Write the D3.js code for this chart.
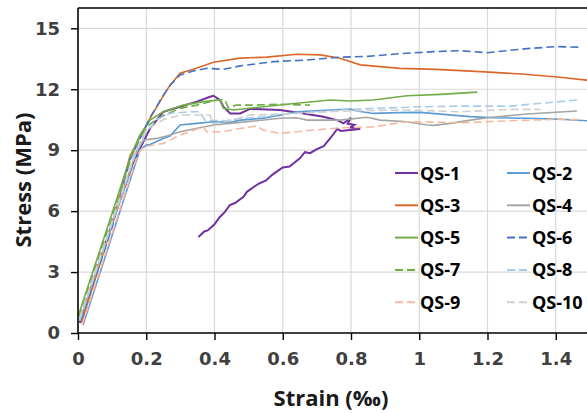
<!DOCTYPE html>
<html>
<head>
<meta charset="utf-8">
<script src="https://d3js.org/d3.v7.min.js"></script>
<style>
  body { margin: 0; background: #fff; }
  .tick text { font-family: "DejaVu Sans", sans-serif; font-weight: bold; font-size: 18px; fill: #404040; }
  .grid line { stroke: #d9d9d9; stroke-width: 1.2; }
  .title { font-family: "Open Sans", sans-serif; font-weight: bold; font-size: 22px; fill: #1a1a1a; }
  .leg text { font-family: "Open Sans", sans-serif; font-weight: bold; font-size: 18px; fill: #000; }
</style>
</head>
<body>
<svg width="587" height="413"></svg>
<script>
// series: [strain (permil), stress (MPa)]
var names = ["QS-1", "QS-2", "QS-3", "QS-4", "QS-5", "QS-6", "QS-7", "QS-8", "QS-9", "QS-10"];
var xTicks = [0, 0.2, 0.4, 0.6, 0.8, 1, 1.2, 1.4];
var yTicks = [0, 3, 6, 9, 12, 15];

var qs1 = [[0.005,0.5],[0.1,5.4],[0.16,8.3],[0.182,9.09],[0.211,10.07],[0.25,10.89],[0.299,11.14],[0.348,11.39],
  [0.387,11.63],[0.397,11.68],[0.416,11.47],[0.426,11.14],[0.446,10.81],[0.475,10.81],[0.504,11.03],[0.592,10.98],
  [0.661,10.81],[0.719,10.65],[0.759,10.48],[0.778,10.32],[0.80,10.6],[0.79,10.3],[0.81,10.25],[0.798,10.12],
  [0.827,10.04],[0.77,9.95],[0.76,10.05],[0.74,9.6],[0.72,9.2],[0.7,9.05],[0.68,8.85],[0.665,8.9],[0.65,8.6],
  [0.62,8.2],[0.6,8.15],[0.57,7.8],[0.55,7.5],[0.53,7.35],[0.52,7.25],[0.495,6.95],[0.485,6.7],[0.46,6.4],
  [0.445,6.3],[0.43,5.95],[0.415,5.7],[0.40,5.35],[0.38,5.05],[0.37,5.0],[0.353,4.73]];
var qs2 = [[0.015,0.4],[0.1,4.8],[0.181,9.0],[0.2,9.25],[0.211,9.28],[0.25,9.58],[0.27,9.7],[0.299,10.24],
  [0.348,10.32],[0.397,10.4],[0.446,10.37],[0.475,10.48],[0.543,10.57],[0.6,10.75],[0.641,10.89],[0.739,10.98],
  [0.798,11.03],[0.817,10.93],[0.866,10.81],[0.94,10.85],[1.003,10.86],[1.08,10.75],[1.15,10.65],[1.22,10.6],
  [1.316,10.57],[1.413,10.52],[1.49,10.45],[1.52,10.4]];
var qs3 = [[0.01,0.5],[0.1,5.3],[0.152,8.7],[0.18,9.6],[0.211,10.57],[0.24,11.39],[0.26,11.96],[0.27,12.2],
  [0.299,12.79],[0.338,12.98],[0.397,13.33],[0.475,13.53],[0.553,13.58],[0.641,13.72],[0.71,13.69],[0.768,13.53],
  [0.827,13.2],[0.944,13.03],[1.05,12.98],[1.179,12.87],[1.3,12.75],[1.413,12.59],[1.49,12.45],[1.55,12.35]];
var qs4 = [[0.005,0.6],[0.1,5.3],[0.17,8.9],[0.192,9.5],[0.23,9.58],[0.26,9.7],[0.299,9.91],[0.397,10.24],
  [0.475,10.37],[0.592,10.57],[0.641,10.6],[0.671,10.48],[0.768,10.48],[0.847,10.62],[0.886,10.48],[0.964,10.4],
  [1.023,10.24],[1.042,10.22],[1.091,10.32],[1.15,10.48],[1.2,10.6],[1.316,10.78],[1.462,10.93]];
var qs5 = [[0.002,0.9],[0.1,5.9],[0.152,8.6],[0.18,9.7],[0.211,10.48],[0.25,10.89],[0.309,11.22],[0.367,11.39],
  [0.416,11.47],[0.426,11.06],[0.455,10.98],[0.543,11.14],[0.641,11.31],[0.739,11.47],[0.798,11.42],[0.866,11.47],
  [0.964,11.68],[1.062,11.75],[1.17,11.86]];
var qs6 = [[0.008,0.6],[0.1,5.2],[0.152,8.5],[0.18,9.5],[0.211,10.6],[0.25,11.7],[0.27,12.2],[0.299,12.7],
  [0.338,12.9],[0.377,13.03],[0.426,12.98],[0.475,13.15],[0.573,13.36],[0.671,13.44],[0.768,13.58],[0.85,13.62],
  [0.944,13.75],[1.042,13.85],[1.12,13.9],[1.199,13.8],[1.316,14.0],[1.404,14.1],[1.47,14.07]];
var qs7 = [[0.002,0.8],[0.1,5.7],[0.155,8.6],[0.18,9.6],[0.211,10.3],[0.25,10.7],[0.299,11.06],[0.348,11.22],
  [0.407,11.47],[0.43,11.5],[0.44,11.1],[0.465,11.22],[0.504,11.22],[0.592,11.26],[0.68,11.22]];
var qs8 = [[0.005,0.6],[0.1,5.4],[0.17,8.9],[0.2,9.9],[0.23,10.5],[0.27,10.81],[0.328,10.89],[0.358,10.89],
  [0.372,10.48],[0.43,10.45],[0.475,10.55],[0.543,10.65],[0.592,10.76],[0.739,10.93],[0.768,10.98],[0.866,11.06],
  [1.013,11.14],[1.12,11.17],[1.267,11.17],[1.462,11.47]];
var qs9 = [[0.012,0.4],[0.1,4.9],[0.175,8.8],[0.192,9.17],[0.25,9.33],[0.299,9.74],[0.367,10.15],[0.377,9.91],
  [0.426,9.91],[0.475,10.07],[0.524,10.2],[0.543,9.99],[0.592,9.83],[0.69,9.99],[0.768,10.1],[0.866,10.15],
  [0.964,10.4],[1.05,10.38],[1.12,10.35],[1.267,10.45],[1.413,10.52],[1.47,10.5]];
var qs10 = [[0.004,0.7],[0.1,5.5],[0.165,8.8],[0.2,10.0],[0.25,10.5],[0.299,10.73],[0.387,10.73],[0.395,10.3],
  [0.43,10.4],[0.504,10.73],[0.641,10.81],[0.778,10.93],[0.964,10.98],[1.12,10.89],[1.267,11.01],[1.355,11.01]];

var series = [qs1, qs2, qs3, qs4, qs5, qs6, qs7, qs8, qs9, qs10];
var colors = ["#7030A0", "#5B9BD5", "#D9682A", "#A5A5A5", "#70AD47", "#4472C4", "#70AD47", "#A9CBEA", "#F6B9A0", "#CFCFCF"];
var dashed = [false, false, false, false, false, true, true, true, true, true];

var svg = d3.select("svg");

// axis runs to 1.6, the picture is cut at about 1.49
var x = d3.scaleLinear().domain([0, 1.6]).range([78, 624]);
var y = d3.scaleLinear().domain([0, 16]).range([333, 8]);

// grid
svg.append("g").attr("class", "grid")
  .selectAll("line").data(xTicks.slice(1)).enter().append("line")
  .attr("x1", d => x(d)).attr("x2", d => x(d)).attr("y1", y(0)).attr("y2", y(16));
svg.append("g").attr("class", "grid")
  .selectAll("line").data(yTicks.slice(1)).enter().append("line")
  .attr("x1", x(0)).attr("x2", x(1.6)).attr("y1", d => y(d)).attr("y2", d => y(d));

// frame top
svg.append("line").attr("x1", x(0)).attr("x2", x(1.6)).attr("y1", y(16)).attr("y2", y(16))
  .attr("stroke", "#000").attr("stroke-width", 1.5);

var line = d3.line().x(d => x(d[0])).y(d => y(d[1]));

svg.append("g").selectAll("path").data(series).enter().append("path")
  .attr("d", line)
  .attr("fill", "none")
  .attr("stroke", (d, i) => colors[i])
  .attr("stroke-width", (d, i) => i == 0 ? 2 : 1.6)
  .attr("stroke-dasharray", (d, i) => dashed[i] ? "8,4" : null);

// axes
var xAxis = svg.append("g").attr("transform", "translate(0," + y(0) + ")")
  .call(d3.axisBottom(x).tickValues(xTicks).tickSize(7).tickPadding(12).tickFormat(d3.format("~g")));
var yAxis = svg.append("g").attr("transform", "translate(" + x(0) + ",0)")
  .call(d3.axisLeft(y).tickValues(yTicks).tickSize(7).tickPadding(11));
[xAxis, yAxis].forEach(function(a) {
  a.select(".domain").attr("stroke", "#000").attr("stroke-width", 1.6);
  a.selectAll(".tick line").attr("stroke", "#000").attr("stroke-width", 1.4);
});
yAxis.select(".domain").attr("d", "M0," + y(0) + "V" + y(16));
xAxis.select(".domain").attr("d", "M" + x(0) + ",0H" + x(1.6));

// titles
svg.append("text").attr("class", "title").attr("text-anchor", "middle")
  .attr("transform", "translate(31,180) rotate(-90)").text("Stress (MPa)");
svg.append("text").attr("class", "title").attr("text-anchor", "middle")
  .attr("x", 331).attr("y", 406).text("Strain (‰)");

// legend, two columns
var leg = svg.append("g").attr("class", "leg");
names.forEach(function(n, i) {
  var col = i % 2, row = Math.floor(i / 2);
  var lx = col == 0 ? 395 : 507;
  var ly = 173 + row * 32.3;
  leg.append("line").attr("x1", lx).attr("x2", lx + 23).attr("y1", ly).attr("y2", ly)
    .attr("stroke", colors[i]).attr("stroke-width", 2)
    .attr("stroke-dasharray", dashed[i] ? "8,4" : null);
  leg.append("text").attr("x", lx + 25).attr("y", ly + 6.5).text(n);
});
</script>
</body>
</html>
